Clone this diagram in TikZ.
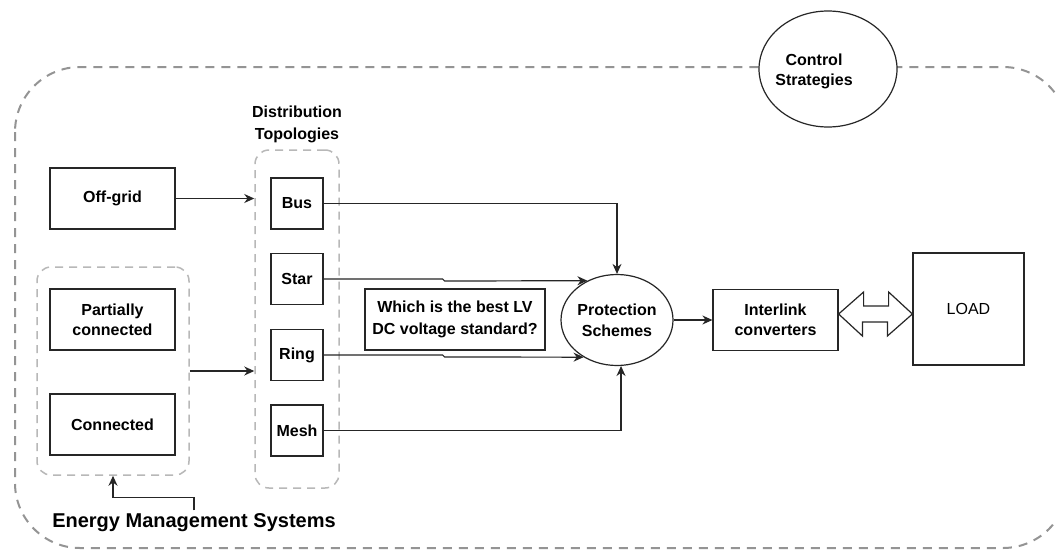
\documentclass[tikz,border=0pt]{standalone}
\usepackage{fontspec}
\setmainfont{Liberation Sans}
\usetikzlibrary{arrows.meta,shapes.geometric,calc}

\begin{document}
\begin{tikzpicture}[x=1pt,y=-1pt,
  txt/.style={font=\fontsize{16}{21}\selectfont\bfseries, align=center},
  box/.style={txt, draw=black!85, line width=1.2pt, fill=white, inner sep=2pt,
    minimum width=125, minimum height=61},
  topo/.style={box, minimum width=52, minimum height=51},
  oval/.style={txt, ellipse, draw=black!85, line width=1.2pt, fill=white, inner sep=0pt},
  group/.style={draw=black!28, line width=1.5pt, dash pattern=on 8pt off 6pt,
    rounded corners=14pt, inner sep=0pt},
  arr/.style={-{Stealth[length=10pt,width=9pt]}, line width=1.2pt, draw=black!85},
  line/.style={line width=1.2pt, draw=black!85, line join=miter}]

\useasboundingbox (0,0) rectangle (1056,551);
\clip (0,0) rectangle (1056,551);
\fill[white] (0,0) rectangle (1056,551);

% outer system boundary
\draw[draw=black!42, line width=2pt, dash pattern=on 9pt off 7pt, rounded corners=65pt]
  (15,67) rectangle (1068,548);

% control strategies on the boundary
\node[oval, minimum width=138, minimum height=116] (ctrl) at (828,69) {};
\node[txt, font=\fontsize{16}{20}\selectfont\bfseries] (ctrltext) at (814,71) {Control\\Strategies};

% grid connection modes
\node[box] (offgrid) at (112.5,198.5) {Off-grid};
\node[group, minimum width=152, minimum height=208] (emsbox) at (113,371) {};
\node[box, font=\fontsize{16}{20}\selectfont\bfseries] (partial) at (112.5,319.5) {Partially\\connected};
\node[box] (connected) at (112.5,424.5) {Connected};
\node[font=\fontsize{20}{24}\selectfont\bfseries] (emslabel) at (194,523) {Energy Management Systems};

% distribution topologies
\node[txt, font=\fontsize{16}{22}\selectfont\bfseries] (disttitle) at (297,124) {Distribution\\Topologies};
\node[group, minimum width=84, minimum height=338] (distbox) at (297,319) {};
\node[topo] (bus) at (297,203.5) {Bus};
\node[topo] (star) at (297,279) {Star};
\node[topo] (ring) at (297,355) {Ring};
\node[topo] (mesh) at (297,430.5) {Mesh};

% question, protection, converters, load
\node[box, minimum width=180, font=\fontsize{16}{22}\selectfont\bfseries] (question) at (455,319.5) {Which is the best LV\\DC voltage standard?};
\node[oval, minimum width=112, minimum height=91] (prot) at (617,320) {Protection\\Schemes};
\node[box, font=\fontsize{16}{20}\selectfont\bfseries] (ic) at (775.5,320) {Interlink\\converters};
\node[box, minimum width=111, minimum height=112, font=\fontsize{16}{20}\selectfont] (load) at (968.5,309) {LOAD};

% connectors
\draw[arr] (offgrid.east) -- (offgrid.east -| distbox.west);
\draw[arr] (emsbox.east) -- (emsbox.east -| distbox.west);
\draw[arr] (emslabel.north) -- ++(0,-13) -| (emsbox.south);

\draw[arr] (bus.east) -| (prot.north);
\draw[arr] (star.east) -- ++(119,0) -- ++(2,2) -- (prot.127);
\draw[arr] (ring.east) -- ++(119,0) -- ++(2,2) -- (prot.228);
\draw[arr] (mesh.east) -| (prot.-85);
\draw[arr] (prot.east) -- (ic.west);

% two-way link between converters and load
\coordinate (dmid) at (875.5,314);
\draw[line, fill=white] (ic.east |- dmid) -- ++(25,-22) -- ++(0,14) -- ++(25,0) -- ++(0,-14)
  -- (load.west |- dmid) -- ++(-25,22) -- ++(0,-14) -- ++(-25,0) -- ++(0,14) -- cycle;

\end{tikzpicture}
\end{document}
